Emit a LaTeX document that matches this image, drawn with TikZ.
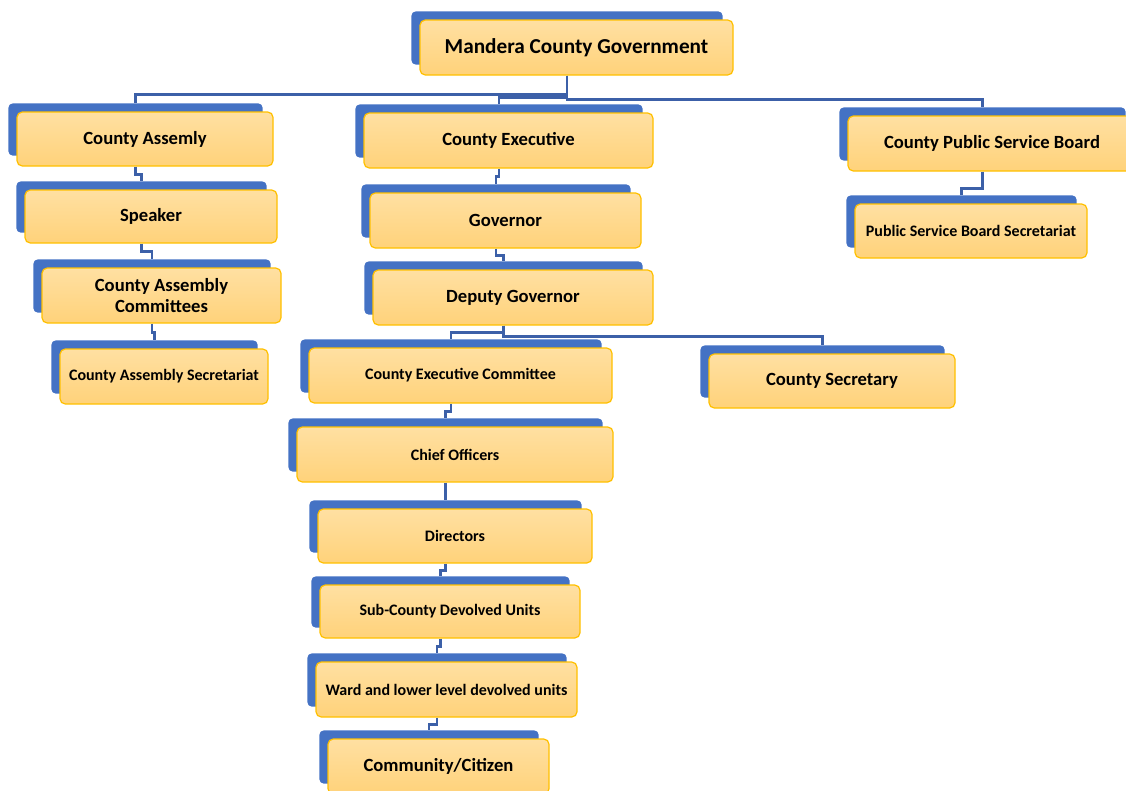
\documentclass[tikz,border=0pt]{standalone}
\usepackage{fontspec}
\setmainfont{Carlito}
\usetikzlibrary{backgrounds}
\definecolor{backblue}{HTML}{4472C4}
\definecolor{linkblue}{HTML}{3C60A8}
\definecolor{boxtop}{HTML}{FFE0A2}
\definecolor{boxbot}{HTML}{FFD27A}
\definecolor{boxline}{HTML}{FFC000}

\begin{document}
\begin{tikzpicture}[x=0.02cm,y=-0.02cm,
   orgbox/.style 2 args={draw=boxline, line width=0.7pt, rounded corners=3pt,
      top color=boxtop, bottom color=boxbot, align=center, inner sep=0pt,
      font=\bfseries\fontsize{10.6}{11.5}\selectfont,
      minimum width=#1*0.02cm, minimum height=#2*0.02cm},
   small/.style={font=\bfseries\fontsize{9.1}{11}\selectfont},
   link/.style={draw=linkblue, line width=1.4pt}]
   \useasboundingbox (0,0) rectangle (1126,791);
   \clip (0,0) rectangle (1126,791);

   % top
   \node[orgbox={313}{55}, font=\bfseries\fontsize{12.1}{14}\selectfont] (mcg) at (576.5,47.5) {Mandera County Government};

   % assembly side
   \node[orgbox={256}{54}] (ca) at (145,139) {County Assemly};
   \node[orgbox={252}{53}] (spk) at (151,216.5) {Speaker};
   \node[orgbox={239}{55}] (cac) at (161.5,295.5) {County Assembly\\Committees};
   \node[orgbox={208}{55}, small] (cas) at (164,376.5) {County Assembly Secretariat};

   % executive side
   \node[orgbox={289}{55}] (ce) at (508.5,140.5) {County Executive};
   \node[orgbox={271}{55}] (gov) at (505.5,220.5) {Governor};
   \node[orgbox={280}{55}] (dgov) at (513,297.5) {Deputy Governor};
   \node[orgbox={303}{55}, small] (cec) at (460.5,375.5) {County Executive Committee};
   \node[orgbox={246}{54}] (csec) at (832,381) {County Secretary};
   \node[orgbox={316}{55}, small] (co) at (455,454.5) {Chief Officers};
   \node[orgbox={274}{54}, small] (dir) at (455,536) {Directors};
   \node[orgbox={260}{53}, small] (scdu) at (450,611.5) {Sub-County Devolved Units};
   \node[orgbox={261}{55}, small] (ward) at (446.5,689.5) {Ward and lower level devolved units};
   \node[orgbox={221}{55}] (comm) at (438.5,766.5) {Community/Citizen};

   % public service board
   \node[orgbox={288}{55}] (cpsb) at (992,143.5) {County Public Service Board};
   \node[orgbox={232}{54}, small] (psbs) at (971,231) {Public Service Board Secretariat};

   % blue back plates
   \begin{scope}[on background layer]
      \clip (0,0) rectangle (1126,791);
      \foreach \n in {mcg,ca,spk,cac,cas,ce,gov,dgov,cec,csec,co,dir,scdu,ward,comm,cpsb,psbs}
         \fill[backblue, rounded corners=2.5pt] ([shift={(-8,-8)}]\n.north west) rectangle ([shift={(-11,-11)}]\n.south east);
   \end{scope}

   % connectors
   \foreach \p/\c/\d in {mcg/ca/19, mcg/ce/22, mcg/cpsb/24,
         ca/spk/8, spk/cac/8, cac/cas/9,
         ce/gov/8, gov/dgov/7, dgov/cec/7, dgov/csec/11,
         cec/co/8, co/dir/9, dir/scdu/7, scdu/ward/8, ward/comm/7,
         cpsb/psbs/17}
      \draw[link] ([shift={(-9.5,0)}]\p.south) -- ++(0,\d) -| ([shift={(-9.5,-8)}]\c.north);
\end{tikzpicture}
\end{document}
